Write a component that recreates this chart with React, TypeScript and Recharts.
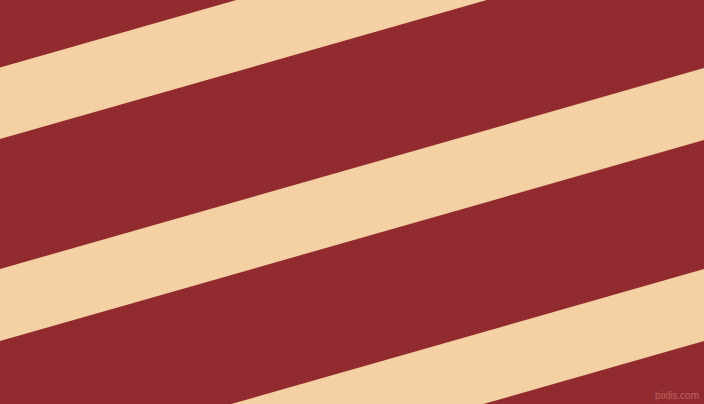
import React from 'react';
import { ComposedChart, Area, XAxis, YAxis } from 'recharts';

document.body.style.margin = '0';

// two sample columns: left and right edge of the picture
const xs = [0, 704];
// stripe edges (top, bottom) in pixel units at each column
const stripeA = [[-134, -62], [-335, -263]];
const stripeB = [[67.5, 139], [-133.5, -62]];
const stripeC = [[269, 341], [68, 140]];
const stripeD = [[470, 542], [269, 341]];

const data = xs.map((x, i) => ({ x, a: stripeA[i], b: stripeB[i], c: stripeC[i], d: stripeD[i] }));

const RED = '#922B2F';
const SAND = '#F4D0A2';

export default function App() {
  return (
    <div style={{ position: 'relative', width: 704, height: 404, background: RED, overflow: 'hidden' }}>
      <ComposedChart width={704} height={404} data={data} margin={{ top: 0, right: 0, bottom: 0, left: 0 }}>
        <XAxis type="number" dataKey="x" domain={[0, 704]} hide allowDataOverflow />
        <YAxis type="number" domain={[0, 404]} reversed hide allowDataOverflow />
        {['a', 'b', 'c', 'd'].map(k => (
          <Area key={k} type="linear" dataKey={k} stroke="none" fill={SAND} fillOpacity={1} isAnimationActive={false} dot={false} activeDot={false} />
        ))}
      </ComposedChart>
      <div style={{ position: 'absolute', right: 5, top: 390, fontFamily: 'Liberation Sans, sans-serif', fontSize: 10, lineHeight: '12px', color: '#bb6265', whiteSpace: 'nowrap' }}>pixlis.com</div>
    </div>
  );
}
